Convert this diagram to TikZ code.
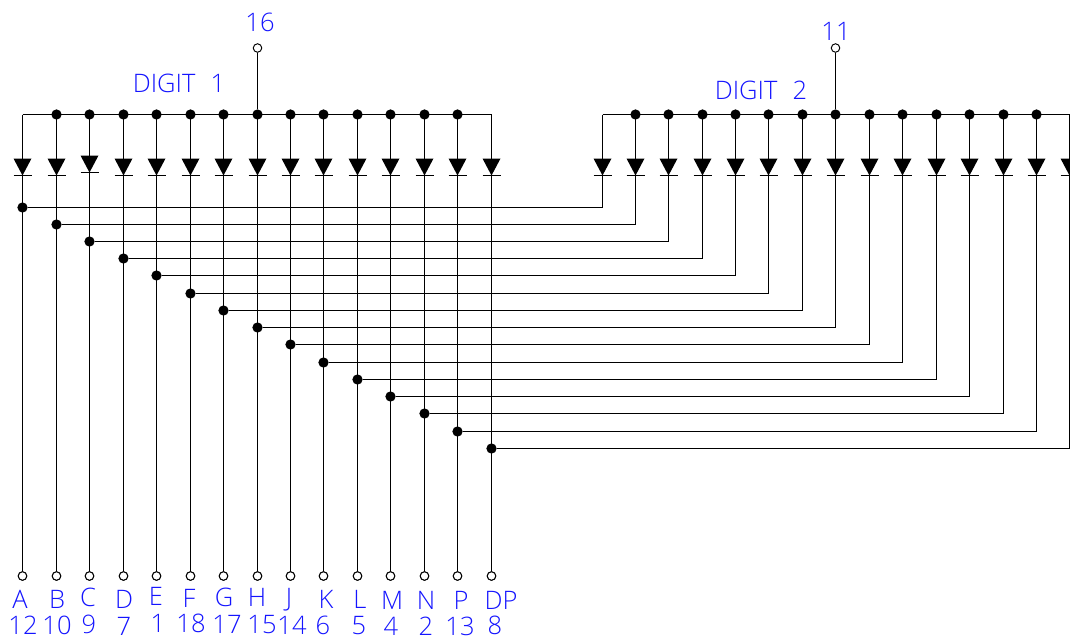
\documentclass[tikz,border=0pt]{standalone}
\usepackage{fontspec}
\setmainfont{Open Sans Light}
\definecolor{labelblue}{RGB}{20,20,255}
\tikzset{
  wire/.style={line width=0.6pt},
  dot/.style={circle, fill=black, inner sep=0pt, minimum size=0.205cm},
  pin/.style={circle, draw, fill=white, line width=0.55pt, inner sep=0pt, minimum size=0.17cm},
  txt/.style={text=labelblue, inner sep=0pt, font=\fontsize{14.5}{15}\selectfont}
}
\newcommand{\diode}[2]{
  \fill (#1-9,#2) -- (#1+9,#2) -- (#1,#2+17) -- cycle;
  \draw[wire] (#1-9,#2+17) -- (#1+9,#2+17);
}
\begin{document}
\begin{tikzpicture}[x=0.02cm,y=-0.02cm]
\useasboundingbox (0,0) rectangle (1070,640);
% common pins
\node [pin] (top1) at (257.5,48) {};
\node [pin] (top2) at (835.5,48) {};
\node [txt] (lab16) at (260,22) {16};
\node [txt] (lab11) at (836,31) {11};
\node [txt] (dig1) at (179,83) {DIGIT\hspace{0.6em}1};
\node [txt] (dig2) at (761,90) {DIGIT\hspace{0.6em}2};
% buses
\coordinate (lbus0) at (22.5,114.5);
\coordinate (lbus14) at (491.5,114.5);
\coordinate (rbus0) at (602.5,114.5);
\coordinate (rbus14) at (1069.5,114.5);
\draw [wire] (lbus0) -- (lbus14);
\draw [wire] (rbus0) -- (rbus14);
% segments: name/pin/name x,y/pin x,y/left x,right x,level
\foreach \seg/\num/\sx/\sy/\nx/\ny/\xl/\xr/\lev [count=\i from 0] in {
  A/12/20/599/23/625/22.5/602.5/207.5,
  B/10/57/599/57/625/56.5/635.5/224.5,
  C/9/88/597/89/624/89.5/668.5/241.5,
  D/7/124/599/124/626/123.5/702.5/258.5,
  E/1/156/596/158/623/156.5/735.5/275.5,
  F/18/189/598/191/623/190.5/768.5/293.5,
  G/17/224/597/227/624/223.5/802.5/310.5,
  H/15/257/597/262/625/257.5/835.5/327.5,
  J/14/289/600/292/625/290.5/869.5/344.5,
  K/6/326/599/323/625/323.5/902.5/362.5,
  L/5/360/599/359/626/357.5/936.5/379.5,
  M/4/392/600/391/626/390.5/969.5/396.5,
  N/2/426/600/426/626/424.5/1003.5/413.5,
  P/13/461/600/460/626/457.5/1036.5/431.5,
  DP/8/501/600/495/625/491.5/1069.5/448.5}
{
  \coordinate (lt\i) at (\xl,114.5);
  \coordinate (rt\i) at (\xr,114.5);
  \coordinate (rc\i) at (\xr,\lev);
  \node [dot] (j\i) at (\xl,\lev) {};
  \node [pin] (p\i) at (\xl,576) {};
  \node [txt] (s\i) at (\sx,\sy) {\seg};
  \node [txt] (n\i) at (\nx,\ny) {\num};
  \draw [wire] (lt\i) -- (p\i);
  \draw [wire] (rt\i) -- (rc\i) -- (j\i);
  \ifnum\i=2 \diode{\xl}{155.5} \else \diode{\xl}{158.5} \fi
  \diode{\xr}{158.5}
  \ifnum\i>0 \ifnum\i<14
    \node [dot] (ld\i) at (lt\i) {};
    \node [dot] (rd\i) at (rt\i) {};
  \fi\fi
  \node [pin] (p\i) at (\xl,576) {};
}
\draw [wire] (ld7) -- (top1);
\draw [wire] (rd7) -- (top2);
\end{tikzpicture}
\end{document}
